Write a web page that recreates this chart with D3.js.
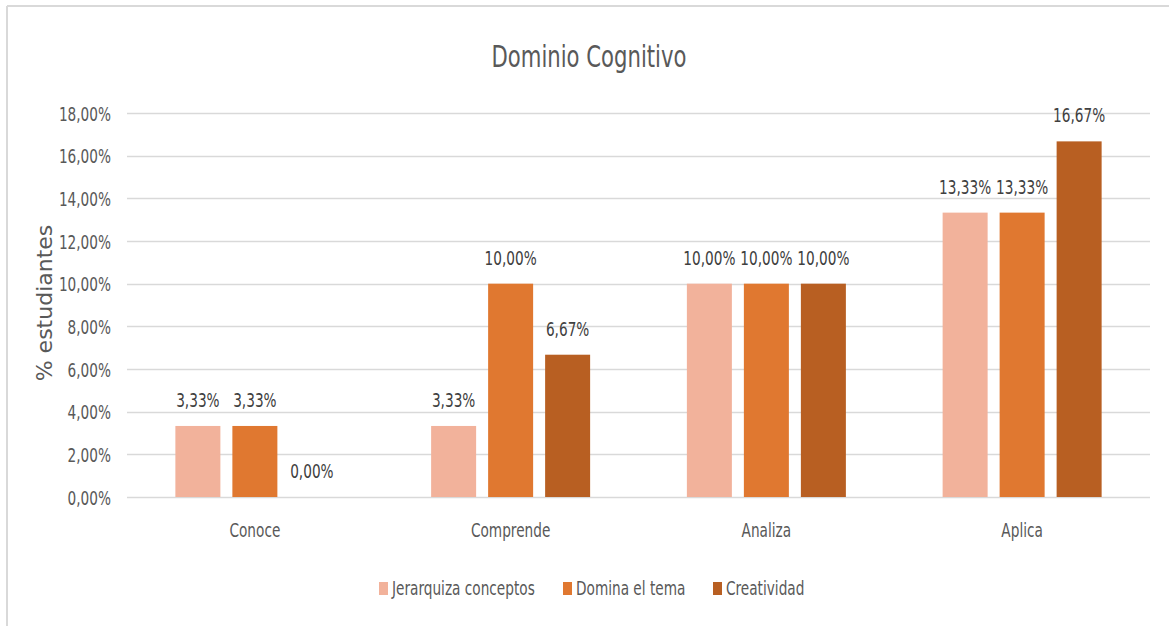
<!DOCTYPE html>
<html>
<head>
<meta charset="utf-8">
<script src="https://cdn.jsdelivr.net/npm/d3@7"></script>
<style>
  html, body { margin: 0; padding: 0; background: #fff; }
  svg { display: block; }
  .narrow { font-family: "Liberation Sans Narrow", "DejaVu Sans Condensed", "Arial Narrow", sans-serif; }
</style>
</head>
<body>
<svg id="chart" width="1169" height="626"></svg>
<script>
const title = "Dominio Cognitivo";
const yAxisTitle = "% estudiantes";
const categories = ["Conoce", "Comprende", "Analiza", "Aplica"];
const seriesNames = ["Jerarquiza conceptos", "Domina el tema", "Creatividad"];
const seriesColors = ["#F2B29B", "#E07830", "#B85F22"];
const jerarquiza = [3.33, 3.33, 10.00, 13.33];
const domina = [3.33, 10.00, 10.00, 13.33];
const creatividad = [0.00, 6.67, 10.00, 16.67];
const yTicks = [0, 2, 4, 6, 8, 10, 12, 14, 16, 18];

const seriesValues = [jerarquiza, domina, creatividad];
const fmt = v => v.toFixed(2).replace(".", ",") + "%";
const SX = 0.76; // horizontal squeeze to mimic the narrow typeface

const svg = d3.select("#chart");
const W = 1169, H = 626;

// outer frame (top and left edges visible)
svg.append("line").attr("x1", 7).attr("x2", W).attr("y1", 6).attr("y2", 6)
  .attr("stroke", "#d9d9d9").attr("stroke-width", 2);
svg.append("line").attr("x1", 7).attr("x2", 7).attr("y1", 6).attr("y2", H)
  .attr("stroke", "#d9d9d9").attr("stroke-width", 2);

const plot = { left: 127, right: 1150, top: 113, bottom: 497 };

const x0 = d3.scaleBand().domain(categories).range([plot.left, plot.right]).paddingInner(0).paddingOuter(0);
const barW = 45, barStep = 57;
const y = d3.scaleLinear().domain([0, 18]).range([plot.bottom, plot.top]);

function narrowText(sel, x, y, size, fill, anchor) {
  return sel.append("text").attr("class", "narrow")
    .attr("transform", `translate(${x},${y}) scale(${SX},1)`)
    .attr("text-anchor", anchor || "start")
    .attr("font-size", size).attr("fill", fill);
}

// gridlines
svg.append("g").selectAll("line").data(yTicks).join("line")
  .attr("x1", plot.left).attr("x2", plot.right)
  .attr("y1", d => Math.round(y(d)) + 0.5).attr("y2", d => Math.round(y(d)) + 0.5)
  .attr("stroke", "#d9d9d9").attr("stroke-width", 1.5);

// y axis tick labels
const yAxis = d3.axisLeft(y).tickValues(yTicks).tickSize(0).tickPadding(0).tickFormat(d => fmt(d));
const yg = svg.append("g").attr("transform", `translate(${plot.left - 16},0)`).call(yAxis);
yg.select(".domain").remove();
yg.selectAll("text").attr("class", "narrow").attr("font-size", 20).attr("fill", "#595959")
  .attr("dy", "0.35em").attr("transform", `scale(${SX},1)`);

// x axis labels
const xAxis = d3.axisBottom(x0).tickSize(0).tickPadding(0);
const xg = svg.append("g").attr("transform", `translate(0,${plot.bottom + 33})`).call(xAxis);
xg.select(".domain").remove();
xg.selectAll("text").attr("class", "narrow").attr("font-size", 20).attr("fill", "#595959")
  .attr("dy", "0.35em").attr("transform", `scale(${SX},1)`);

// bars
const groupW = barStep * 2 + barW;
seriesValues.forEach((vals, si) => {
  const g = svg.append("g");
  const bx = i => x0(categories[i]) + x0.bandwidth() / 2 - groupW / 2 + si * barStep;
  g.selectAll("rect").data(vals).join("rect")
    .attr("x", (d, i) => bx(i))
    .attr("width", barW)
    .attr("y", d => y(d))
    .attr("height", d => y(0) - y(d))
    .attr("fill", seriesColors[si]);
  g.selectAll("text").data(vals).join("text")
    .attr("class", "narrow")
    .attr("transform", (d, i) => `translate(${bx(i) + barW / 2},${y(d) - 19}) scale(${SX},1)`)
    .attr("text-anchor", "middle")
    .attr("font-size", 20).attr("fill", "#404040")
    .text(d => fmt(d));
});

// title
narrowText(svg, 589, 67, 31, "#595959", "middle").text(title);

// y axis title
svg.append("text")
  .attr("transform", `translate(52,303) rotate(-90)`)
  .attr("text-anchor", "middle")
  .attr("font-family", "DejaVu Sans, Verdana, sans-serif")
  .attr("font-size", 22).attr("fill", "#595959").text(yAxisTitle);

// legend
const legendX = [379, 563, 713];
const lg = svg.append("g");
seriesNames.forEach((name, i) => {
  lg.append("rect").attr("x", legendX[i]).attr("y", 582).attr("width", 9).attr("height", 13)
    .attr("fill", seriesColors[i]);
  narrowText(lg, legendX[i] + 13, 595, 20, "#595959", "start").text(name);
});
</script>
</body>
</html>
